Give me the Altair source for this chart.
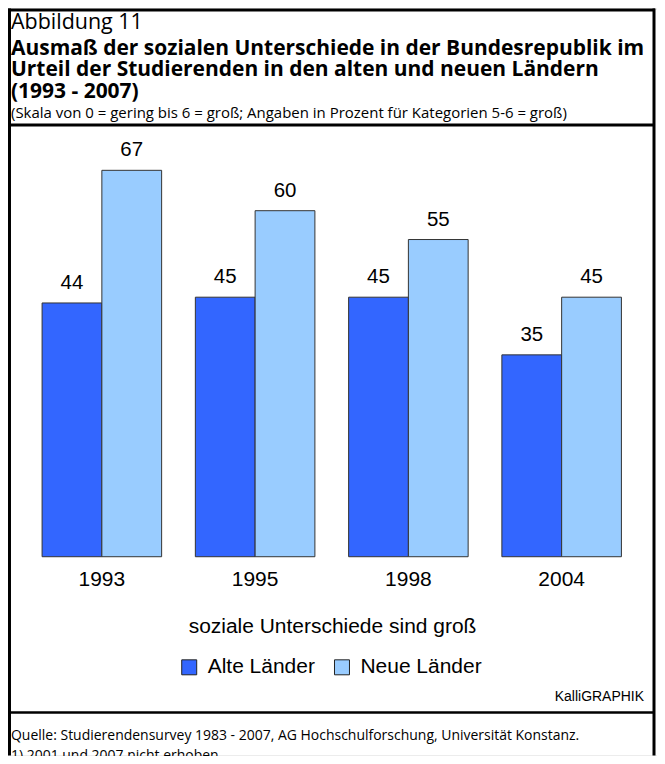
import altair as alt
import pandas as pd

years = ["1993", "1995", "1998", "2004"]
alte = [44, 45, 45, 35]
neue = [67, 60, 55, 45]
series = ["Alte Länder", "Neue Länder"]
colors = ["#3366FF", "#99CCFF"]

rows = []
for y, a, n in zip(years, alte, neue):
    rows.append({"Jahr": y, "Gruppe": series[0], "Wert": a})
    rows.append({"Jahr": y, "Gruppe": series[1], "Wert": n})
df = pd.DataFrame(rows)
df_years = pd.DataFrame({"Jahr": years})

W, H = 650, 748
xscale = alt.Scale(domain=years, range=[17.25, 631.25], paddingInner=0.22, paddingOuter=0.11)
yscale = alt.Scale(domain=[0, 80], range=[549, 86.9])
offscale = alt.Scale(domain=series, paddingInner=0, paddingOuter=0)

base = alt.Chart(df)

bars = base.mark_bar(stroke="#333333", strokeWidth=1).encode(
    x=alt.X("Jahr:N", scale=xscale, axis=None),
    xOffset=alt.XOffset("Gruppe:N", scale=offscale),
    y=alt.Y("Wert:Q", scale=yscale, axis=None),
    color=alt.Color(
        "Gruppe:N",
        scale=alt.Scale(domain=series, range=colors),
        legend=alt.Legend(
            title=None, orient="none", legendX=171, legendY=649, direction="horizontal",
            symbolType="square", symbolSize=225, symbolStrokeColor="#222222", symbolStrokeWidth=1,
            symbolOpacity=1, labelFont="Liberation Sans", labelFontSize=21, labelColor="#000000",
            labelOffset=8, columnPadding=16, padding=0, symbolOffset=0,
        ),
    ),
)

labels = base.mark_text(font="Liberation Sans", fontSize=20.5, baseline="alphabetic", dy=-14, color="#000000").encode(
    x=alt.X("Jahr:N", scale=xscale, axis=None),
    xOffset=alt.XOffset("Gruppe:N", scale=offscale),
    y=alt.Y("Wert:Q", scale=yscale, axis=None),
    text="Wert:Q",
)

year_text = alt.Chart(df_years).mark_text(font="Liberation Sans", fontSize=21, baseline="middle", color="#000000").encode(
    x=alt.X("Jahr:N", scale=xscale, axis=None),
    y=alt.value(572),
    text="Jahr:N",
)


def txt(t, x, y, size, font="Open Sans", weight="normal", align="left"):
    return alt.Chart(alt.Data(values=[{"t": t}])).mark_text(
        font=font, fontSize=size, fontWeight=weight, align=align, baseline="middle", color="#000000"
    ).encode(x=alt.value(x), y=alt.value(y), text="t:N")


def rule(x, x2, y, y2, w):
    return alt.Chart(alt.Data(values=[{}])).mark_rule(color="#000000", strokeWidth=w).encode(
        x=alt.value(x), x2=alt.value(x2), y=alt.value(y), y2=alt.value(y2)
    )


texts = [
    txt("Abbildung 11", 3, 14, 21.5),
    txt("Ausmaß der sozialen Unterschiede in der Bundesrepublik im", 3, 40, 21, weight="bold"),
    txt("Urteil der Studierenden in den alten und neuen Ländern", 3, 62, 21, weight="bold"),
    txt("(1993 - 2007)", 3, 84, 21, weight="bold"),
    txt("(Skala von 0 = gering bis 6 = groß; Angaben in Prozent für Kategorien 5-6 = groß)", 3, 105, 15),
    txt("soziale Unterschiede sind groß", 325, 619, 21, font="Liberation Sans", align="center"),
    txt("KalliGRAPHIK", 637, 689, 14, font="Liberation Sans", align="right"),
    txt("Quelle: Studierendensurvey 1983 - 2007, AG Hochschulforschung, Universität Konstanz.", 3, 729, 14),
    txt("1) 2001 und 2007 nicht erhoben", 3, 749, 14),
]

rules = [
    rule(1.5, 1.5, 0, H, 3),
    rule(0, 648, 1.5, 1.5, 3),
    rule(647, 647, 0, H, 3),
    rule(0, 648, 116.5, 116.5, 3),
    rule(0, 648, 705, 705, 2.5),
]

chart = alt.layer(bars, labels, year_text, *texts, *rules).properties(
    width=W, height=H, autosize=alt.AutoSizeParams(type="none"), padding=0
).configure_view(stroke=None).configure(background="#ffffff")

chart.save("out.html", embed_options={"renderer": "svg", "actions": False})
